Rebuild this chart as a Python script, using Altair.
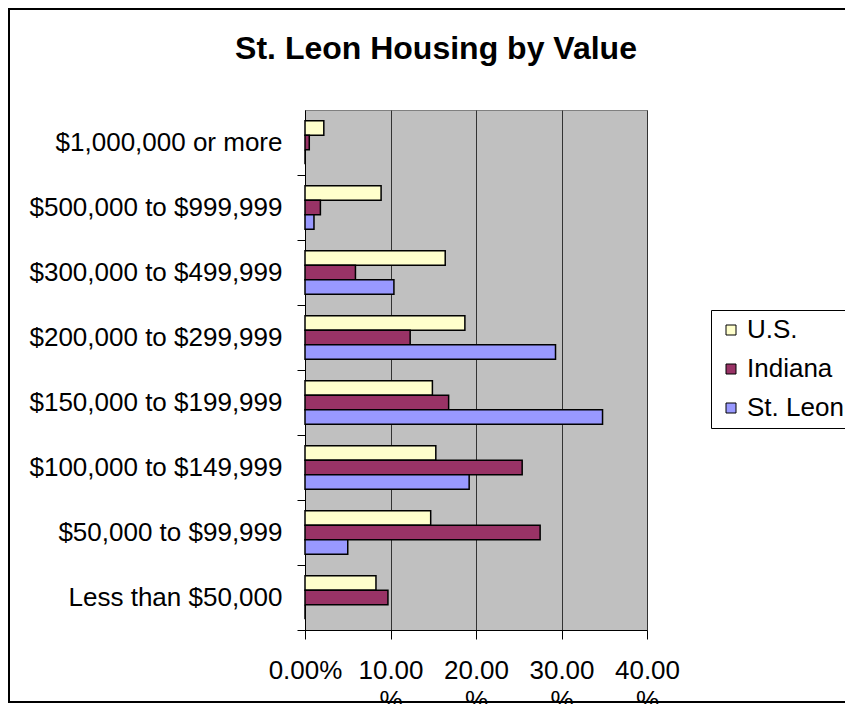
import altair as alt
import pandas as pd

categories = [
    "$1,000,000 or more",
    "$500,000 to $999,999",
    "$300,000 to $499,999",
    "$200,000 to $299,999",
    "$150,000 to $199,999",
    "$100,000 to $149,999",
    "$50,000 to $99,999",
    "Less than $50,000",
]
series = ["U.S.", "Indiana", "St. Leon"]
us = [2.2, 8.9, 16.4, 18.7, 14.9, 15.3, 14.7, 8.3]
indiana = [0.5, 1.8, 5.9, 12.3, 16.8, 25.4, 27.5, 9.7]
st_leon = [0.0, 1.05, 10.4, 29.3, 34.8, 19.2, 5.0, 0.0]
colors = ["#FFFFCC", "#993366", "#9999FF"]
x_ticks = [0, 10, 20, 30, 40]
title_text = "St. Leon Housing by Value"

rows = []
for name, vals in zip(series, [us, indiana, st_leon]):
    for c, v in zip(categories, vals):
        rows.append({"Category": c, "Series": name, "Value": v})
df = pd.DataFrame(rows)

FONT = "Liberation Sans"

bars = alt.Chart(df).mark_bar(stroke="black", strokeWidth=1.5).encode(
    y=alt.Y(
        "Category:N",
        sort=categories,
        scale=alt.Scale(paddingInner=0, paddingOuter=0),
        axis=alt.Axis(
            title=None,
            bandPosition=1,
            tickSize=8,
            labelPadding=15,
            labelFontSize=26,
            labelFont=FONT,
            labelColor="black",
            domainColor="black",
            tickColor="black",
            labelLimit=400,
            grid=False,
            labelOverlap=False,
        ),
    ),
    yOffset=alt.YOffset(
        "Series:N",
        sort=series,
        scale=alt.Scale(paddingInner=0, paddingOuter=0.75),
    ),
    x=alt.X(
        "Value:Q",
        scale=alt.Scale(domain=[0, 40], nice=False),
        axis=alt.Axis(
            title=None,
            values=x_ticks,
            labelExpr="datum.value == 0 ? '0.00%' : [format(datum.value, '.2f'), '%']",
            labelFontSize=26,
            labelFont=FONT,
            labelColor="black",
            labelLineHeight=30,
            labelFlush=False,
            labelOverlap=False,
            labelPadding=18,
            tickSize=9,
            tickColor="black",
            domainColor="black",
            grid=True,
            gridColor="#333333",
            gridWidth=1,
        ),
    ),
    fill=alt.Fill(
        "Series:N",
        sort=series,
        scale=alt.Scale(domain=series, range=colors),
        legend=alt.Legend(
            title=None,
            orient="none",
            legendX=406,
            legendY=200,
            strokeColor="black",
            fillColor="white",
            padding=7,
            symbolType="square",
            symbolSize=100,
            symbolStrokeColor="black",
            symbolStrokeWidth=1,
            labelFontSize=26,
            labelFont=FONT,
            labelColor="black",
            labelOffset=3,
            rowPadding=13,
            labelLimit=300,
        ),
    ),
)

title = alt.Chart(pd.DataFrame({"t": [title_text]})).mark_text(
    font=FONT, fontSize=32, fontWeight="bold", color="black",
    align="center", baseline="alphabetic",
).encode(text="t:N", x=alt.value(131), y=alt.value(-51))

frame = alt.Chart(pd.DataFrame({"k": [0]})).mark_rect(
    fill="transparent", stroke="black", strokeWidth=2
).encode(
    x=alt.value(-296), x2=alt.value(560), y=alt.value(-101), y2=alt.value(592)
)

chart = alt.layer(bars, title, frame).properties(
    width=342,
    height=520,
    autosize=alt.AutoSizeParams(type="none"),
    padding={"left": 297, "top": 102, "right": 198, "bottom": 74},
).configure_view(fill="#C0C0C0", stroke="#808080", strokeWidth=1)

chart.save("out.html", embed_options={"renderer": "svg", "actions": False})
